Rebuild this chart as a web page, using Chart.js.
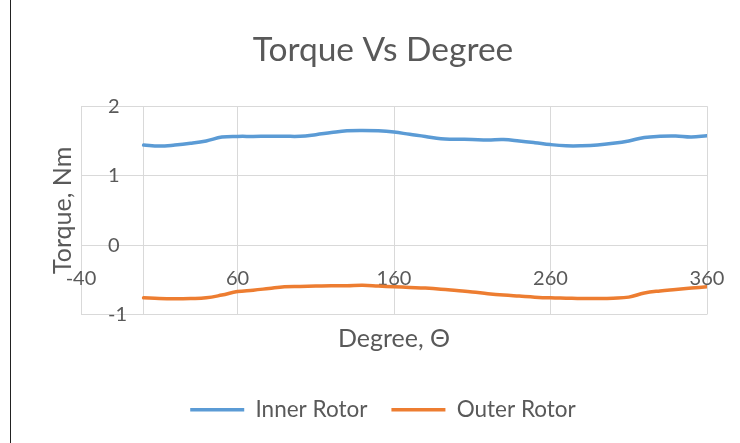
<!DOCTYPE html>
<html>
<head>
<meta charset="utf-8">
<script src="https://cdn.jsdelivr.net/npm/chart.js@4/dist/chart.umd.min.js"></script>
<style>
  html, body { margin: 0; padding: 0; background: #fff; overflow: hidden; }
  #wrap { position: relative; width: 740px; height: 443px; overflow: hidden; }
  #frame { position: absolute; left: 10px; top: 0; width: 1px; height: 443px; background: #222; }
  canvas { position: absolute; left: 0; top: 0; }
</style>
</head>
<body>
<div id="wrap">
  <canvas id="chart" width="766" height="443"></canvas>
  <div id="frame"></div>
</div>
<script>
const degrees = [0, 10, 20, 30, 40, 50, 60, 70, 80, 90, 100, 110, 120, 130, 140, 150, 160, 170, 180,
  190, 200, 210, 220, 230, 240, 250, 260, 270, 280, 290, 300, 310, 320, 330, 340, 350, 360]

const innerRotor = [1.44, 1.425, 1.44, 1.465, 1.5, 1.555, 1.565, 1.565, 1.567, 1.567, 1.567, 1.59,
  1.62, 1.645, 1.65, 1.645, 1.627, 1.595, 1.565, 1.53, 1.525, 1.52, 1.515, 1.52, 1.5, 1.475,
  1.447, 1.43, 1.43, 1.44, 1.465, 1.5, 1.55, 1.567, 1.57, 1.555, 1.575]

const outerRotor = [-0.76, -0.77, -0.773, -0.77, -0.76, -0.72, -0.67, -0.65, -0.625, -0.6, -0.595,
  -0.59, -0.585, -0.585, -0.58, -0.59, -0.6, -0.61, -0.62, -0.635, -0.655, -0.675, -0.7, -0.72,
  -0.735, -0.75, -0.76, -0.765, -0.77, -0.77, -0.765, -0.75, -0.69, -0.66, -0.64, -0.62, -0.6]

const xTicks = [-40, 0, 60, 160, 260, 360]
const yTicks = [-1, 0, 1, 2]

const textColor = '#595959'
const gridColor = '#d9d9d9'
const fontFamily = 'Lato'

function points(values) {
  return degrees.map((d, i) => ({ x: d, y: values[i] }))
}

new Chart(document.getElementById('chart'), {
  type: 'line',
  data: {
    datasets: [
      {
        label: 'Inner Rotor',
        data: points(innerRotor),
        borderColor: '#5b9bd5',
        backgroundColor: '#5b9bd5',
        borderWidth: 3.5,
        borderCapStyle: 'round',
        pointRadius: 0,
        tension: 0.4,
      },
      {
        label: 'Outer Rotor',
        data: points(outerRotor),
        borderColor: '#ed7d31',
        backgroundColor: '#ed7d31',
        borderWidth: 3.5,
        borderCapStyle: 'round',
        pointRadius: 0,
        tension: 0.4,
      },
    ],
  },
  options: {
    responsive: false,
    animation: false,
    layout: { padding: { left: 0, right: 0, top: 0, bottom: 12 } },
    plugins: {
      title: {
        display: true,
        text: 'Torque Vs Degree',
        color: textColor,
        font: { family: fontFamily, size: 33.5, weight: 'normal' },
        padding: { top: 30, bottom: 36 },
      },
      legend: {
        display: true,
        position: 'bottom',
        labels: {
          usePointStyle: true,
          pointStyle: 'line',
          pointStyleWidth: 54,
          color: textColor,
          font: { family: fontFamily, size: 22.5 },
          padding: 24,
        },
      },
      tooltip: { enabled: false },
    },
    scales: {
      x: {
        type: 'linear',
        position: { y: 0 },
        min: -40,
        max: 360,
        afterBuildTicks: (scale) => { scale.ticks = xTicks.map((v) => ({ value: v })) },
        grid: { color: gridColor, drawTicks: false },
        border: { color: gridColor },
        ticks: {
          color: textColor,
          font: { family: fontFamily, size: 20 },
          padding: 21,
          maxRotation: 0,
          callback: (v) => (v === 0 ? '' : v),
        },
      },
      y: {
        type: 'linear',
        position: 'left',
        min: -1,
        max: 2,
        afterBuildTicks: (scale) => { scale.ticks = yTicks.map((v) => ({ value: v })) },
        afterFit: (scale) => { scale.width = 81 },
        grid: { color: gridColor, drawTicks: false },
        border: { display: false },
        ticks: {
          color: textColor,
          font: { family: fontFamily, size: 20 },
          mirror: true,
          padding: 27,
        },
        title: {
          display: true,
          text: 'Torque, Nm',
          color: textColor,
          font: { family: fontFamily, size: 25 },
          padding: { top: 48, bottom: 0 },
        },
      },
      x2: {
        type: 'linear',
        position: 'bottom',
        display: true,
        grid: { display: false, drawTicks: false },
        border: { display: false },
        ticks: { display: false },
        title: {
          display: true,
          text: 'Degree, Θ',
          color: textColor,
          font: { family: fontFamily, size: 25 },
          padding: { top: 9, bottom: 21 },
        },
      },
      y2: {
        type: 'linear',
        position: 'right',
        display: true,
        afterFit: (scale) => { scale.width = 59 },
        grid: { display: false, drawTicks: false },
        border: { display: false },
        ticks: { display: false },
      },
    },
  },
})
</script>
</body>
</html>
